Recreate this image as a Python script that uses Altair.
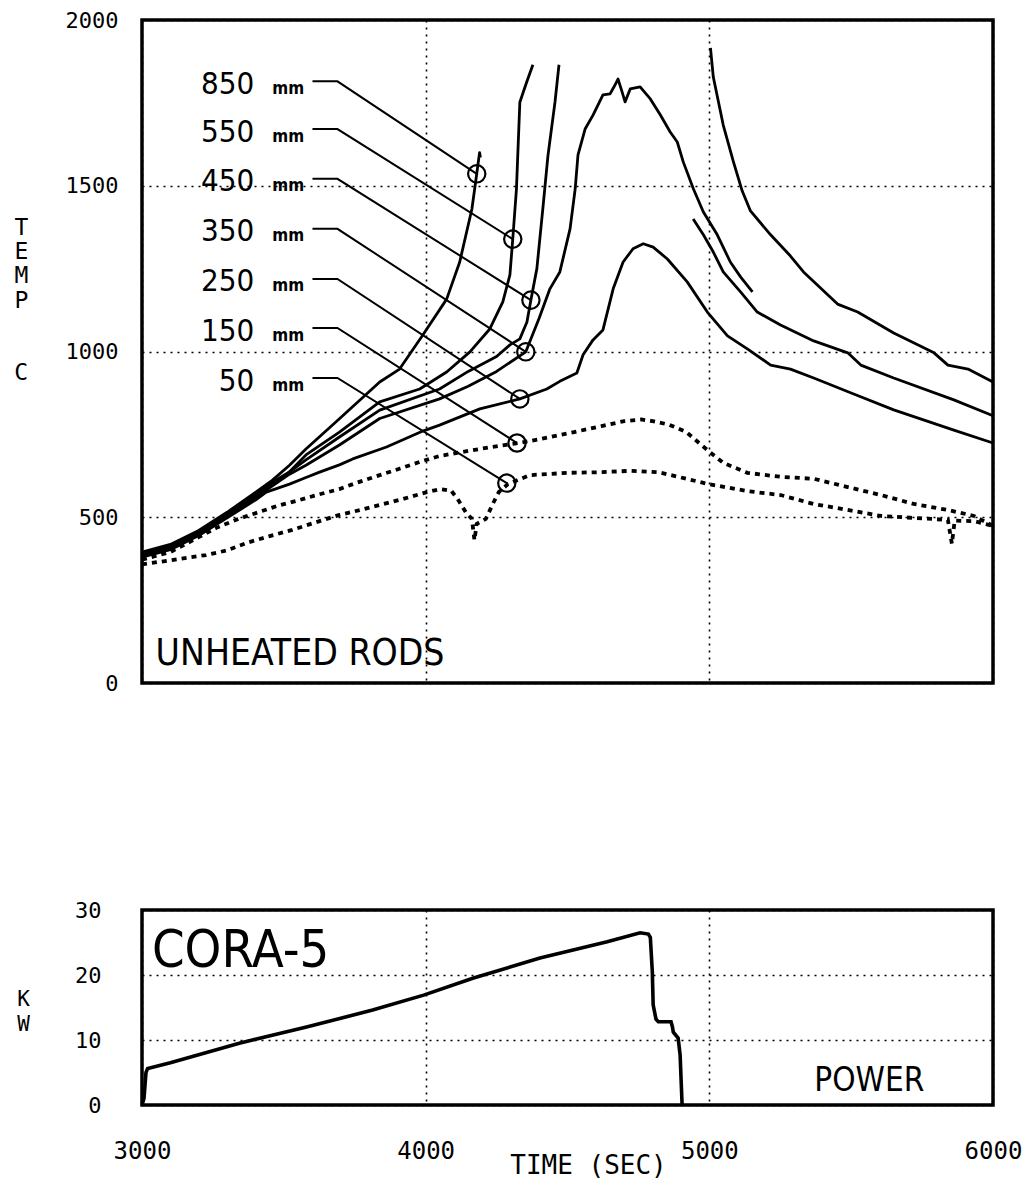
import altair as alt
import pandas as pd

MONO = "DejaVu Sans Mono"
NARROW = "Liberation Sans Narrow, DejaVu Sans Condensed, Arial Narrow, sans-serif"

# ---------------- temperature data (time s, temp C) ----------------
t850 = [3000, 3100, 3200, 3300, 3400, 3460, 3520, 3578, 3696, 3838, 3908, 3990, 4074, 4120, 4163, 4180, 4190, 4193]
T850 = [395, 418, 460, 515, 575, 612, 657, 706, 797, 908, 947, 1050, 1158, 1270, 1430, 1536, 1600, 1585]

t550a = [3000, 3100, 3200, 3300, 3400, 3460, 3520, 3578, 3696, 3838, 3979, 4074, 4156, 4226, 4272, 4297, 4307, 4320, 4332, 4355, 4378]
T550a = [392, 414, 457, 512, 570, 606, 637, 688, 757, 848, 887, 938, 999, 1068, 1150, 1231, 1339, 1490, 1752, 1810, 1865]
t550b = [5004, 5014, 5049, 5085, 5116, 5145, 5216, 5286, 5332, 5452, 5523, 5650, 5792, 5841, 5912, 6000]
T550b = [1916, 1828, 1683, 1572, 1484, 1424, 1352, 1288, 1240, 1143, 1119, 1056, 996, 959, 947, 908]

t450a = [3000, 3100, 3200, 3300, 3400, 3460, 3520, 3578, 3696, 3838, 4049, 4150, 4250, 4297, 4332, 4357, 4371, 4392, 4413, 4431, 4456, 4470]
T450a = [388, 410, 452, 507, 565, 600, 637, 673, 742, 823, 887, 940, 985, 1020, 1038, 1089, 1155, 1250, 1430, 1590, 1753, 1865]
t450b = [4943, 4979, 5014, 5049, 5110, 5169, 5251, 5368, 5488, 5534, 5650, 5862, 6000]
T450b = [1400, 1352, 1300, 1240, 1180, 1119, 1080, 1032, 996, 959, 920, 854, 806]

t350 = [3000, 3100, 3200, 3300, 3400, 3460, 3520, 3578, 3696, 3838, 4049, 4150, 4250, 4353, 4400, 4438, 4473,
        4509, 4527, 4537, 4562, 4590, 4625, 4650, 4665, 4678, 4690, 4703, 4721, 4756, 4792, 4827, 4862, 4887,
        4908, 4944, 4979, 5028, 5074, 5110, 5152]
T350 = [385, 405, 448, 502, 560, 595, 630, 657, 718, 798, 857, 895, 940, 999, 1100, 1189, 1240,
        1370, 1490, 1593, 1671, 1713, 1774, 1777, 1800, 1822, 1790, 1753, 1792, 1798, 1762, 1714, 1662, 1632,
        1572, 1490, 1421, 1352, 1270, 1225, 1180]

t250 = [3000, 3100, 3200, 3300, 3400, 3438, 3520, 3578, 3626, 3696, 3743, 3862, 3990, 4049, 4191, 4332, 4427,
        4473, 4533, 4555, 4590, 4625, 4661, 4696, 4731, 4767, 4802, 4852, 4922, 4993, 5064, 5134, 5216, 5286,
        5368, 5509, 5650, 5862, 6000]
T250 = [380, 402, 445, 498, 552, 576, 600, 620, 636, 658, 676, 712, 760, 778, 827, 857, 887,
        910, 935, 990, 1035, 1065, 1189, 1270, 1310, 1325, 1315, 1279, 1210, 1119, 1047, 1008, 959, 947,
        920, 872, 824, 763, 724]

t150 = [3000, 3100, 3200, 3262, 3340, 3413, 3480, 3555, 3620, 3696, 3760, 3838, 3910, 3979, 4050, 4150, 4220,
        4307, 4400, 4523, 4620, 4700, 4760, 4800, 4859, 4919, 4997, 5049, 5134, 5251, 5368, 5488, 5605, 5721,
        5841, 5933, 6000]
T150 = [372, 395, 440, 468, 495, 516, 535, 552, 568, 585, 605, 627, 647, 667, 685, 700, 710,
        721, 735, 757, 775, 790, 795, 790, 779, 757, 700, 664, 634, 622, 616, 591, 567, 540,
        522, 504, 474]

t50 = [3000, 3100, 3226, 3300, 3378, 3450, 3530, 3610, 3696, 3770, 3838, 3920, 4004, 4053, 4090, 4113, 4141,
       4163, 4172, 4180, 4212, 4240, 4258, 4290, 4367, 4500, 4623, 4720, 4820, 4900, 4997, 5134, 5251, 5368,
       5488, 5605, 5721, 5841, 5855, 5865, 5935, 6000]
T50 = [358, 370, 386, 400, 425, 443, 462, 484, 507, 522, 537, 555, 576, 585, 580, 555, 516,
       495, 431, 480, 495, 546, 576, 600, 627, 634, 636, 640, 636, 620, 600, 579, 567, 540,
       522, 504, 498, 492, 420, 490, 488, 474]

# ---------------- curve labels ----------------
label_names = ["850", "550", "450", "350", "250", "150", "50"]
label_unit = "mm"
label_T = [1815, 1671, 1521, 1370, 1219, 1071, 920]
circle_t = [4180, 4307, 4371, 4353, 4332, 4322, 4286]
circle_T = [1536, 1339, 1155, 999, 857, 724, 603]

# ---------------- power data (time s, kW) ----------------
power_t = [3000, 3007, 3014, 3020, 3100, 3343, 3580, 3813, 3993, 4166, 4403, 4640, 4756, 4785, 4792, 4799,
           4802, 4812, 4820, 4865, 4870, 4873, 4890, 4897, 4904]
power_kw = [0, 1, 5, 5.6, 6.5, 9.5, 12.0, 14.6, 16.9, 19.5, 22.6, 25.1, 26.5, 26.3, 25.8, 20.5,
            15.4, 13.2, 12.8, 12.8, 12.0, 11.2, 10.3, 7.7, 0]

# ---------------- build tables ----------------
rows = []
def add(seg, style, ts, vs):
    for i, (a, b) in enumerate(zip(ts, vs)):
        rows.append({"seg": seg, "style": style, "i": i, "t": a, "T": b})

add("850", "solid", t850, T850)
add("550a", "solid", t550a, T550a)
add("550b", "solid", t550b, T550b)
add("450a", "solid", t450a, T450a)
add("450b", "solid", t450b, T450b)
add("350", "solid", t350, T350)
add("250", "solid", t250, T250)
add("150", "dotted", t150, T150)
add("50", "dotted", t50, T50)
temp_df = pd.DataFrame(rows)

LEAD_START = 3601
LEAD_CORNER = 3689
NUM_RIGHT = 3396
UNIT_LEFT = 3459
BASE_DROP = 38

lead_rows = []
lab_rows = []
for k, name in enumerate(label_names):
    lead_rows.append({"lab": name, "i": 0, "t": LEAD_START, "T": label_T[k]})
    lead_rows.append({"lab": name, "i": 1, "t": LEAD_CORNER, "T": label_T[k]})
    lead_rows.append({"lab": name, "i": 2, "t": circle_t[k], "T": circle_T[k]})
    lab_rows.append({"num": name, "unit": label_unit, "tn": NUM_RIGHT, "tu": UNIT_LEFT,
                     "T": label_T[k] - BASE_DROP})
lead_df = pd.DataFrame(lead_rows)
lab_df = pd.DataFrame(lab_rows)
circ_df = pd.DataFrame({"t": circle_t, "T": circle_T})
power_df = pd.DataFrame({"i": list(range(len(power_t))), "t": power_t, "kw": power_kw})

# ---------------- scales / axes ----------------
xs = alt.Scale(domain=[3000, 6000], nice=False, zero=False)
ys = alt.Scale(domain=[0, 2000], nice=False)
ps = alt.Scale(domain=[0, 30], nice=False)

grid_kw = dict(grid=True, gridDash=[2, 5], gridColor="black", gridWidth=1.6, gridOpacity=1,
               ticks=False, domain=False)

x_top_axis = alt.Axis(values=[3000, 4000, 5000, 6000], labels=False, title=None, **grid_kw)
y_top_axis = alt.Axis(values=[0, 500, 1000, 1500, 2000], format="d", labelFont=MONO, labelFontSize=22,
                      labelColor="black", labelPadding=24,
                      title=["T", "E", "M", "P"], titleAngle=0, titleAlign="center",
                      titleBaseline="middle", titleFont=MONO, titleFontSize=23, titleFontWeight="normal",
                      titleLineHeight=24.4, titleX=-121, titleY=207, titleColor="black", **grid_kw)

X_T = alt.X("t:Q", scale=xs, axis=x_top_axis)
Y_T = alt.Y("T:Q", scale=ys, axis=y_top_axis)

base_top = alt.Chart(temp_df)
solid = base_top.transform_filter(alt.datum.style == "solid").mark_line(
    color="black", strokeWidth=2.8, strokeJoin="round").encode(
    x=X_T, y=Y_T, detail="seg:N", order="i:Q")
dotted = base_top.transform_filter(alt.datum.style == "dotted").mark_line(
    color="black", strokeWidth=3.8, strokeDash=[5, 5]).encode(
    x=X_T, y=Y_T, detail="seg:N", order="i:Q")
leaders = alt.Chart(lead_df).mark_line(color="black", strokeWidth=2).encode(
    x=X_T, y=Y_T, detail="lab:N", order="i:Q")
circles = alt.Chart(circ_df).mark_point(shape="circle", filled=False, size=300, strokeWidth=2.2,
                                        color="black", opacity=1).encode(x=X_T, y=Y_T)
nums = alt.Chart(lab_df).mark_text(align="right", baseline="alphabetic", font=NARROW, fontSize=31,
                                   color="black").encode(
    x=alt.X("tn:Q", scale=xs, axis=x_top_axis), y=Y_T, text="num:N")
units = alt.Chart(lab_df).mark_text(align="left", baseline="alphabetic", font=NARROW, fontSize=17,
                                    fontWeight="bold", color="black").encode(
    x=alt.X("tu:Q", scale=xs, axis=x_top_axis), y=Y_T, text="unit:N")
title_top = alt.Chart(pd.DataFrame({"t": [3048], "T": [55], "txt": ["UNHEATED RODS"]})).mark_text(
    align="left", baseline="alphabetic", font=NARROW, fontSize=37, color="black").encode(
    x=X_T, y=Y_T, text="txt:N")
# unit letter of the stacked "TEMP C" axis title
unit_c = alt.Chart(pd.DataFrame({"t": [2574], "T": [935], "txt": ["C"]})).mark_text(
    align="center", baseline="middle", font=MONO, fontSize=23, color="black").encode(
    x=X_T, y=Y_T, text="txt:N")

top = alt.layer(solid, dotted, leaders, circles, nums, units, title_top, unit_c).properties(
    width=851, height=663)

# ---------------- power panel ----------------
x_bot_axis = alt.Axis(values=[3000, 4000, 5000, 6000], format="d", labelFont=MONO, labelFontSize=24,
                      labelColor="black", labelPadding=34, labelFlush=False,
                      title="TIME (SEC)", titleFont=MONO, titleFontSize=26, titleFontWeight="normal",
                      titleColor="black", titleX=446, titleY=60, titleAlign="center",
                      titleBaseline="middle", **grid_kw)
y_bot_axis = alt.Axis(values=[0, 10, 20, 30], format="d", labelFont=MONO, labelFontSize=22,
                      labelColor="black", labelPadding=41,
                      title=["K", "W"], titleAngle=0, titleAlign="center", titleBaseline="middle",
                      titleFont=MONO, titleFontSize=21, titleFontWeight="normal", titleLineHeight=25,
                      titleX=-119, titleY=89, titleColor="black", **grid_kw)
X_B = alt.X("t:Q", scale=xs, axis=x_bot_axis)
Y_B = alt.Y("kw:Q", scale=ps, axis=y_bot_axis)

power = alt.Chart(power_df).mark_line(color="black", strokeWidth=3.6).encode(x=X_B, y=Y_B, order="i:Q")
cora = alt.Chart(pd.DataFrame({"t": [3035], "kw": [21.2], "txt": ["CORA-5"]})).mark_text(
    align="left", baseline="alphabetic", font=NARROW, fontSize=52, color="black").encode(
    x=X_B, y=Y_B, text="txt:N")
pw = alt.Chart(pd.DataFrame({"t": [5370], "kw": [2.2], "txt": ["POWER"]})).mark_text(
    align="left", baseline="alphabetic", font=NARROW, fontSize=33, color="black").encode(
    x=X_B, y=Y_B, text="txt:N")

bottom = alt.layer(power, cora, pw).properties(width=851, height=195)

chart = alt.vconcat(top, bottom, spacing=227, bounds="flush").properties(
    padding={"left": 12, "top": 7, "right": 5, "bottom": 5}, background="white"
).configure_view(stroke="black", strokeWidth=3.5)

chart.save("out.html", embed_options={"renderer": "svg", "actions": False})
